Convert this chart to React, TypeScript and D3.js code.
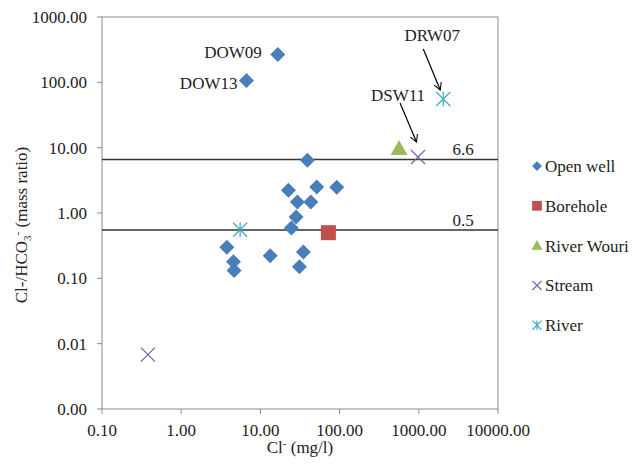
import * as d3 from 'd3';

// Cl- (mg/l) vs Cl-/HCO3- (mass ratio)
const openWellX = [16.6, 6.67, 39.2, 22.6, 51.5, 92, 29.3, 43.3, 28.2, 24.6, 3.77, 4.57, 4.65, 13.3, 34.9, 31.1];
const openWellY = [266, 107, 6.4, 2.22, 2.5, 2.47, 1.47, 1.47, 0.87, 0.59, 0.30, 0.18, 0.132, 0.222, 0.253, 0.150];
const boreholeX = [72.2];
const boreholeY = [0.5];
const wouriX = [563];
const wouriY = [9.66];
const streamX = [978, 0.38];
const streamY = [7.2, 0.0068];
const riverX = [2037, 5.55];
const riverY = [55.7, 0.555];

const xTicks = [0.1, 1, 10, 100, 1000, 10000];
const xTickLabels = ['0.10', '1.00', '10.00', '100.00', '1000.00', '10000.00'];
const yTicks = [1000, 100, 10, 1, 0.1, 0.01, 0.001];
const yTickLabels = ['1000.00', '100.00', '10.00', '1.00', '0.10', '0.01', '0.00'];

const refValues = [6.6, 0.55];
const refLabels = ['6.6', '0.5'];

const legendNames = ['Open well', 'Borehole', 'River Wouri', 'Stream', 'River'];
const colors = ['#4A7EBB', '#C0504D', '#9BBB59', '#8064A2', '#4BACC6'];

const W = 634;
const H = 465;
const left = 102;
const right = 498;
const top = 17;
const bottom = 409;
const font = "'Liberation Serif', 'Times New Roman', Tinos, 'DejaVu Serif', serif";

const x = d3.scaleLog().domain([0.1, 10000]).range([left, right]);
const y = d3.scaleLog().domain([0.001, 1000]).range([bottom, top]);

function Marker({ kind, cx, cy, color, s = 1 }: { kind: number; cx: number; cy: number; color: string; s?: number }) {
  if (kind === 0) {
    const r = 7.5 * s;
    return <path d={`M${cx},${cy - r}L${cx + r},${cy}L${cx},${cy + r}L${cx - r},${cy}Z`} fill={color} />;
  }
  if (kind === 1) {
    const r = 7.5 * s;
    return <rect x={cx - r} y={cy - r} width={2 * r} height={2 * r} fill={color} />;
  }
  if (kind === 2) {
    const r = 8.5 * s;
    return <path d={`M${cx},${cy - r}L${cx + r},${cy + r * 0.75}L${cx - r},${cy + r * 0.75}Z`} fill={color} />;
  }
  if (kind === 3) {
    const r = 7 * s;
    return (
      <path d={`M${cx - r},${cy - r}L${cx + r},${cy + r}M${cx + r},${cy - r}L${cx - r},${cy + r}`} stroke={color} strokeWidth={1.3} fill="none" />
    );
  }
  const r = 7 * s;
  return (
    <path
      d={`M${cx - r},${cy - r}L${cx + r},${cy + r}M${cx + r},${cy - r}L${cx - r},${cy + r}M${cx},${cy - r * 1.05}L${cx},${cy + r * 1.05}`}
      stroke={color}
      strokeWidth={1.3}
      fill="none"
    />
  );
}

const series = [
  { xs: openWellX, ys: openWellY },
  { xs: boreholeX, ys: boreholeY },
  { xs: wouriX, ys: wouriY },
  { xs: streamX, ys: streamY },
  { xs: riverX, ys: riverY },
];

// labels next to points: [text, series, index, dx, dy, anchor]
const pointLabels: [string, number, number, number, number, string][] = [
  ['DOW09', 0, 0, -16, -3, 'end'],
  ['DOW13', 0, 1, -9, 3, 'end'],
];

// arrow annotations: [text, series, index, tail dx, tail dy, tip dx, tip dy, text dx, text dy]
const arrows: [string, number, number, number, number, number, number, number, number][] = [
  ['DRW07', 4, 0, -20, -50, -3, -9, -11, -64],
  ['DSW11', 3, 0, -18, -54, -1.5, -15, -20, -62],
];

export default function App() {
  return (
    <svg width={W} height={H} style={{ position: 'absolute', left: 0, top: 0, background: '#fff', fontFamily: font }}>
      <defs>
        <marker id="arr" viewBox="0 0 10 10" refX="9" refY="5" markerWidth="8" markerHeight="8" orient="auto" markerUnits="userSpaceOnUse">
          <path d="M0,0L9,5L0,10" fill="none" stroke="#000" strokeWidth={1.3} />
        </marker>
      </defs>
      <rect x={left} y={top} width={right - left} height={bottom - top} fill="none" stroke="#8C8C8C" strokeWidth={1} />

      {yTicks.map((t, i) => (
        <g key={'y' + i}>
          <line x1={left - 5} x2={left} y1={y(t)} y2={y(t)} stroke="#8C8C8C" />
          <text x={87} y={y(t)} dy="0.35em" textAnchor="end" fontSize={17} fill="#222">
            {yTickLabels[i]}
          </text>
        </g>
      ))}
      {xTicks.map((t, i) => (
        <g key={'x' + i}>
          <line x1={x(t)} x2={x(t)} y1={bottom} y2={bottom + 5} stroke="#8C8C8C" />
          <text x={x(t)} y={430} dy="0.35em" textAnchor="middle" fontSize={17} fill="#222">
            {xTickLabels[i]}
          </text>
        </g>
      ))}

      {refValues.map((v, i) => (
        <g key={'r' + i}>
          <line x1={left} x2={right} y1={y(v)} y2={y(v)} stroke="#333" strokeWidth={1.5} />
          <text x={463} y={y(v) - 4} textAnchor="middle" fontSize={17} fill="#222">
            {refLabels[i]}
          </text>
        </g>
      ))}

      {series.map((s, k) =>
        s.xs.map((xv, i) => <Marker key={k + '-' + i} kind={k} cx={x(xv)} cy={y(s.ys[i])} color={colors[k]} />)
      )}

      {pointLabels.map(([txt, k, i, dx, dy, anchor]) => (
        <text key={txt} x={x(series[k].xs[i]) + dx} y={y(series[k].ys[i]) + dy} dy="0.35em" textAnchor={anchor} fontSize={17} fill="#222">
          {txt}
        </text>
      ))}

      {arrows.map(([txt, k, i, tx, ty, hx, hy, lx, ly]) => {
        const px = x(series[k].xs[i]);
        const py = y(series[k].ys[i]);
        return (
          <g key={txt}>
            <line x1={px + tx} y1={py + ty} x2={px + hx} y2={py + hy} stroke="#000" strokeWidth={1.2} markerEnd="url(#arr)" />
            <text x={px + lx} y={py + ly} dy="0.35em" textAnchor="middle" fontSize={17} fill="#222">
              {txt}
            </text>
          </g>
        );
      })}

      {legendNames.map((n, k) => {
        const ly = 166 + k * 39.8;
        return (
          <g key={n}>
            <Marker kind={k} cx={537} cy={ly} color={colors[k]} s={0.65} />
            <text x={545} y={ly} dy="0.35em" fontSize={17} fill="#222">
              {n}
            </text>
          </g>
        );
      })}

      <text x={300} y={453} textAnchor="middle" fontSize={17} fill="#222">
        Cl<tspan dy={-6} fontSize={11}>-</tspan>
        <tspan dy={6}> (mg/l)</tspan>
      </text>
      <text transform="translate(27,225) rotate(-90)" textAnchor="middle" fontSize={17} fill="#222">
        Cl-/HCO
        <tspan dy={4} fontSize={11}>3</tspan>
        <tspan dy={-10} fontSize={11}>-</tspan>
        <tspan dy={6}> (mass ratio)</tspan>
      </text>
    </svg>
  );
}
